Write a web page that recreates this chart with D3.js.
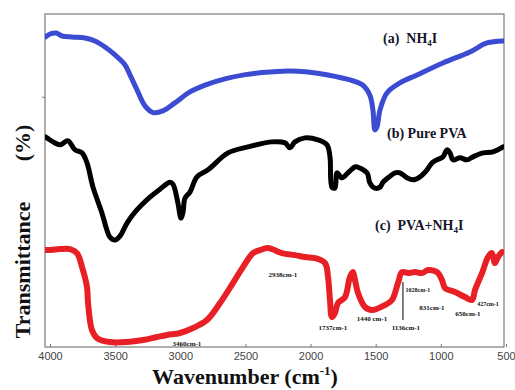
<!DOCTYPE html>
<html><head><meta charset="utf-8">
<script src="https://cdn.jsdelivr.net/npm/d3@7"></script>
<style>body{margin:0;background:#fff}svg{display:block}</style>
</head><body>
<svg id="c" width="515" height="390"></svg>
<script>
// Wavenumber ticks
const xTicks = [4000, 3500, 3000, 2500, 2000, 1500, 1000, 500];

// (a) NH4I
const nh4iWn = [4035,4000,3954,3908,3831,3731,3655,3578,3501,3424,3386,3332,3271,3209,3133,3041,2926,2800,2650,2500,2373,2173,2020,1866,1698,1598,1544,1521,1506,1490,1467,1414,1314,1183,984,777,646,523];
const nh4iT  = [93.1,94.0,94.3,93.4,93.1,92.8,91.9,90.1,87.7,84.7,81.7,77.2,72.4,70.4,70.9,73.3,76.6,78.8,80.6,81.8,82.4,82.9,82.6,81.7,80.2,78.6,75.5,71.0,65.2,66.1,71.2,76.3,79.3,81.7,85.3,88.6,91.3,91.9];

// (b) Pure PVA
const pvaWn = [4035,4023,3977,3923,3862,3808,3754,3716,3670,3601,3563,3540,3501,3463,3409,3348,3233,3156,3079,3056,3018,2995,2979,2964,2926,2872,2787,2634,2480,2296,2196,2158,2120,2043,1943,1874,1851,1836,1813,1797,1759,1713,1659,1644,1567,1544,1506,1467,1444,1406,1352,1314,1260,1214,1160,1106,1068,1030,984,953,930,907,853,800,754,677,600,523];
const pvaT  = [63.1,62.8,61.6,60.7,61.9,59.2,58.3,55.3,48.0,40.2,35.1,33.0,32.1,33.3,37.2,40.5,45.0,47.4,49.5,48.9,43.2,38.7,40.5,44.7,46.5,51.1,53.2,58.3,60.1,61.6,61.3,59.8,61.6,62.8,62.2,60.7,57.1,48.0,47.7,52.3,50.8,52.3,54.1,54.1,52.3,49.2,47.7,48.0,49.5,50.8,52.3,52.3,50.8,50.2,51.1,53.2,55.3,56.2,57.1,59.2,58.3,56.2,56.8,56.2,57.1,58.3,58.6,60.1];

// (c) PVA+NH4I
const blendWn = [4035,4015,3923,3847,3793,3754,3716,3708,3678,3639,3540,3409,3286,3179,3102,3002,2902,2795,2695,2596,2519,2442,2388,2327,2219,2120,2043,1966,1889,1866,1851,1836,1813,1790,1736,1698,1675,1659,1636,1582,1529,1429,1375,1329,1298,1252,1199,1145,1099,1030,991,968,892,815,761,738,684,638,608,585,562,531];
const blendT  = [29.1,29.1,29.4,29.4,28.2,24.0,18.0,13.2,5.1,2.7,1.5,1.5,2.1,3.0,3.6,4.2,5.7,8.1,13.2,19.2,24.0,28.2,29.1,29.7,28.2,27.6,27.0,26.7,25.2,21.0,14.1,9.0,10.2,13.2,15.0,21.0,22.5,20.1,16.2,12.0,11.1,12.6,14.1,19.2,22.5,22.2,22.5,22.2,23.1,22.5,20.1,17.7,16.5,15.0,14.1,17.1,22.2,27.0,28.2,25.2,27.0,28.5];

// peak annotations: label, wavenumber, transmittance
const annText = ["3460cm-1","2938cm-1","1737cm-1","1440 cm-1","1136cm-1","1028cm-1","831cm-1","650cm-1","427cm-1"];
const annWn   = [2949, 2212, 1828, 1529, 1268, 1176, 1068, 792, 638];
const annT    = [0.4, 21.0, 5.1, 7.8, 5.1, 16.4, 11.1, 9.3, 12.4];
const annSize = [7, 7, 7, 7, 7, 6, 7, 7, 6];
const markerWn = 1291, markerT = [19.5, 8.1];

const svg = d3.select("#c");
const L = 45, R = 504, T = 14, B = 347;
const x = d3.scaleLinear().domain([4000, 500]).range([50, 506]);
const y = d3.scaleLinear().domain([0, 100]).range([B, T]);

// frame
svg.append("rect").attr("x", L).attr("y", T).attr("width", R - L).attr("height", B - T)
  .attr("fill", "#fff").attr("stroke", "#7a7a7a").attr("stroke-width", 1.2);

// bottom axis
const ax = svg.append("g").attr("transform", `translate(0,${B})`)
  .call(d3.axisBottom(x).tickValues(xTicks).tickSize(-3).tickPadding(5).tickFormat(d3.format("d")));
ax.select(".domain").remove();
ax.selectAll("line").attr("stroke", "#7a7a7a");
ax.selectAll("text").attr("font-family", "Liberation Sans, Arial, sans-serif").attr("font-size", 11).attr("fill", "#444");
// left small tick
svg.append("line").attr("x1", L - 3).attr("x2", L).attr("y1", y(75)).attr("y2", y(75)).attr("stroke", "#7a7a7a");

const line = d3.line().x(d => x(d[0])).y(d => y(d[1])).curve(d3.curveCatmullRom.alpha(0.5));
svg.append("clipPath").attr("id", "cl").append("rect").attr("x", L).attr("y", T).attr("width", R - L).attr("height", B - T);
const series = [
  {wn: nh4iWn, t: nh4iT, color: "#3b4bd2", w: 5},
  {wn: pvaWn, t: pvaT, color: "#000", w: 5},
  {wn: blendWn, t: blendT, color: "#e81f24", w: 6}
];
series.forEach(s => {
  svg.append("path").datum(s.wn.map((v, i) => [v, s.t[i]]))
    .attr("d", line).attr("fill", "none").attr("stroke", s.color)
    .attr("stroke-width", s.w).attr("stroke-linejoin", "round").attr("stroke-linecap", "round")
    .attr("clip-path", "url(#cl)");
});

// marker line
svg.append("line").attr("x1", x(markerWn)).attr("x2", x(markerWn)).attr("y1", y(markerT[0])).attr("y2", y(markerT[1]))
  .attr("stroke", "#000").attr("stroke-width", 1);

// annotations
annText.forEach((t, i) => {
  svg.append("text").attr("x", x(annWn[i])).attr("y", y(annT[i])).attr("text-anchor", "middle")
    .attr("font-family", "Liberation Serif, Times New Roman, serif").attr("font-weight", "bold")
    .attr("font-size", annSize[i]).attr("fill", "#111").text(t);
});

// series labels
const serif = "Liberation Serif, Times New Roman, serif";
function label(xp, yp, parts) {
  const t = svg.append("text").attr("x", xp).attr("y", yp).attr("font-family", serif)
    .attr("font-weight", "bold").attr("font-size", 14).attr("fill", "#15152a").attr("xml:space", "preserve");
  parts.forEach(p => {
    const ts = t.append("tspan").text(p[0]);
    if (p[1] === "sub") ts.attr("font-size", 9).attr("dy", 3);
    if (p[1] === "after") ts.attr("dy", -3);
  });
}
label(383, 43, [["(a)  NH"], ["4", "sub"], ["I", "after"]]);
label(387, 138, [["(b) Pure PVA"]]);
label(375, 230, [["(c)  PVA+NH"], ["4", "sub"], ["I", "after"]]);

// axis titles
const xt = svg.append("text").attr("x", 245).attr("y", 384).attr("text-anchor", "middle")
  .attr("font-family", serif).attr("font-weight", "bold").attr("font-size", 22).attr("fill", "#111");
xt.append("tspan").text("Wavenumber (cm");
xt.append("tspan").text("-1").attr("font-size", 13).attr("dy", -9);
xt.append("tspan").text(")").attr("dy", 9);

svg.append("text").attr("transform", "translate(30,270) rotate(-90)").attr("text-anchor", "middle")
  .attr("font-family", serif).attr("font-weight", "bold").attr("font-size", 22).attr("fill", "#111").text("Transmittance");
svg.append("text").attr("transform", "translate(30,143) rotate(-90)").attr("text-anchor", "middle")
  .attr("font-family", serif).attr("font-weight", "bold").attr("font-size", 22).attr("fill", "#111").text("(%)");
</script>
</body></html>
